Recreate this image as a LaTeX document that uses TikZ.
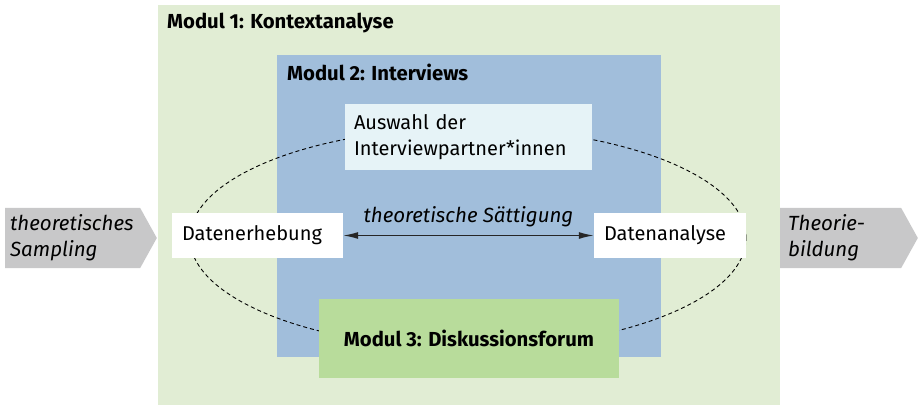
\documentclass[tikz,border=0pt]{standalone}
\usepackage{fontspec}
\setmainfont{Fira Sans}
\usetikzlibrary{shapes.symbols,arrows.meta}

\definecolor{kontext}{HTML}{E1EDD4}
\definecolor{interview}{HTML}{A1BEDB}
\definecolor{auswahlc}{HTML}{E6F3F7}
\definecolor{forum}{HTML}{B8DC9B}
\definecolor{pfeil}{HTML}{C8C8C9}

\tikzset{
  modulbox/.style={rectangle, inner sep=0pt},
  schritt/.style={rectangle, fill=white, inner xsep=10pt, inner ysep=0pt, align=left, font=\fontsize{20}{26}\selectfont},
  titel/.style={anchor=base west, inner sep=0pt, font=\fontsize{20.3}{24}\selectfont\bfseries},
  seitenpfeil/.style={signal, signal to=east, signal pointer angle=122, fill=pfeil, inner ysep=0pt, align=left, anchor=west, font=\fontsize{20.5}{26}\selectfont\itshape},
}

\begin{document}
\begin{tikzpicture}[x=1pt,y=-1pt]
\useasboundingbox (0,0) rectangle (918,406);
\node[modulbox, fill=kontext, minimum width=622pt, minimum height=400pt] (M1) at (469,205) {};
\node[modulbox, fill=interview, minimum width=384pt, minimum height=302pt] (M2) at (469,206) {};
\node[titel] (T1) at (167,29) {Modul 1: Kontextanalyse};
\node[titel] (T2) at (287,81) {Modul 2: Interviews};
\draw[dashed, dash pattern=on 4pt off 3pt, line width=0.9pt] (468,238) ellipse [x radius=278pt, y radius=110pt];
\node[schritt, fill=auswahlc, minimum height=66pt, text width=229pt, inner xsep=9pt] (AW) at (468.5,137) {Auswahl der\\Interviewpartner*innen};
\node[schritt, minimum height=45pt, text width=151pt] (DE) at (257.5,235.5) {Datenerhebung};
\node[schritt, minimum height=45pt, text width=132pt] (DA) at (670,235.5) {Datenanalyse};
\node[modulbox, fill=forum, minimum width=300pt, minimum height=79pt, font=\fontsize{20.3}{24}\selectfont\bfseries] (M3) at (469,338.5) {Modul 3: Diskussionsforum};
\node[seitenpfeil, minimum height=60pt, inner xsep=5pt, text width=125pt] (TS) at (5,238) {theoretisches\\Sampling};
\node[seitenpfeil, minimum height=60pt, inner xsep=8pt, text width=105pt] (TB) at (780,238) {Theorie-\\bildung};
\draw [{Latex[length=15pt,width=7pt]}-{Latex[length=15pt,width=7pt]}, line width=1.4pt, black!85] (DE) -- node[pos=0.5, above=5pt, black, font=\fontsize{20.5}{24}\selectfont\itshape] {theoretische Sättigung} (DA);
\end{tikzpicture}
\end{document}
